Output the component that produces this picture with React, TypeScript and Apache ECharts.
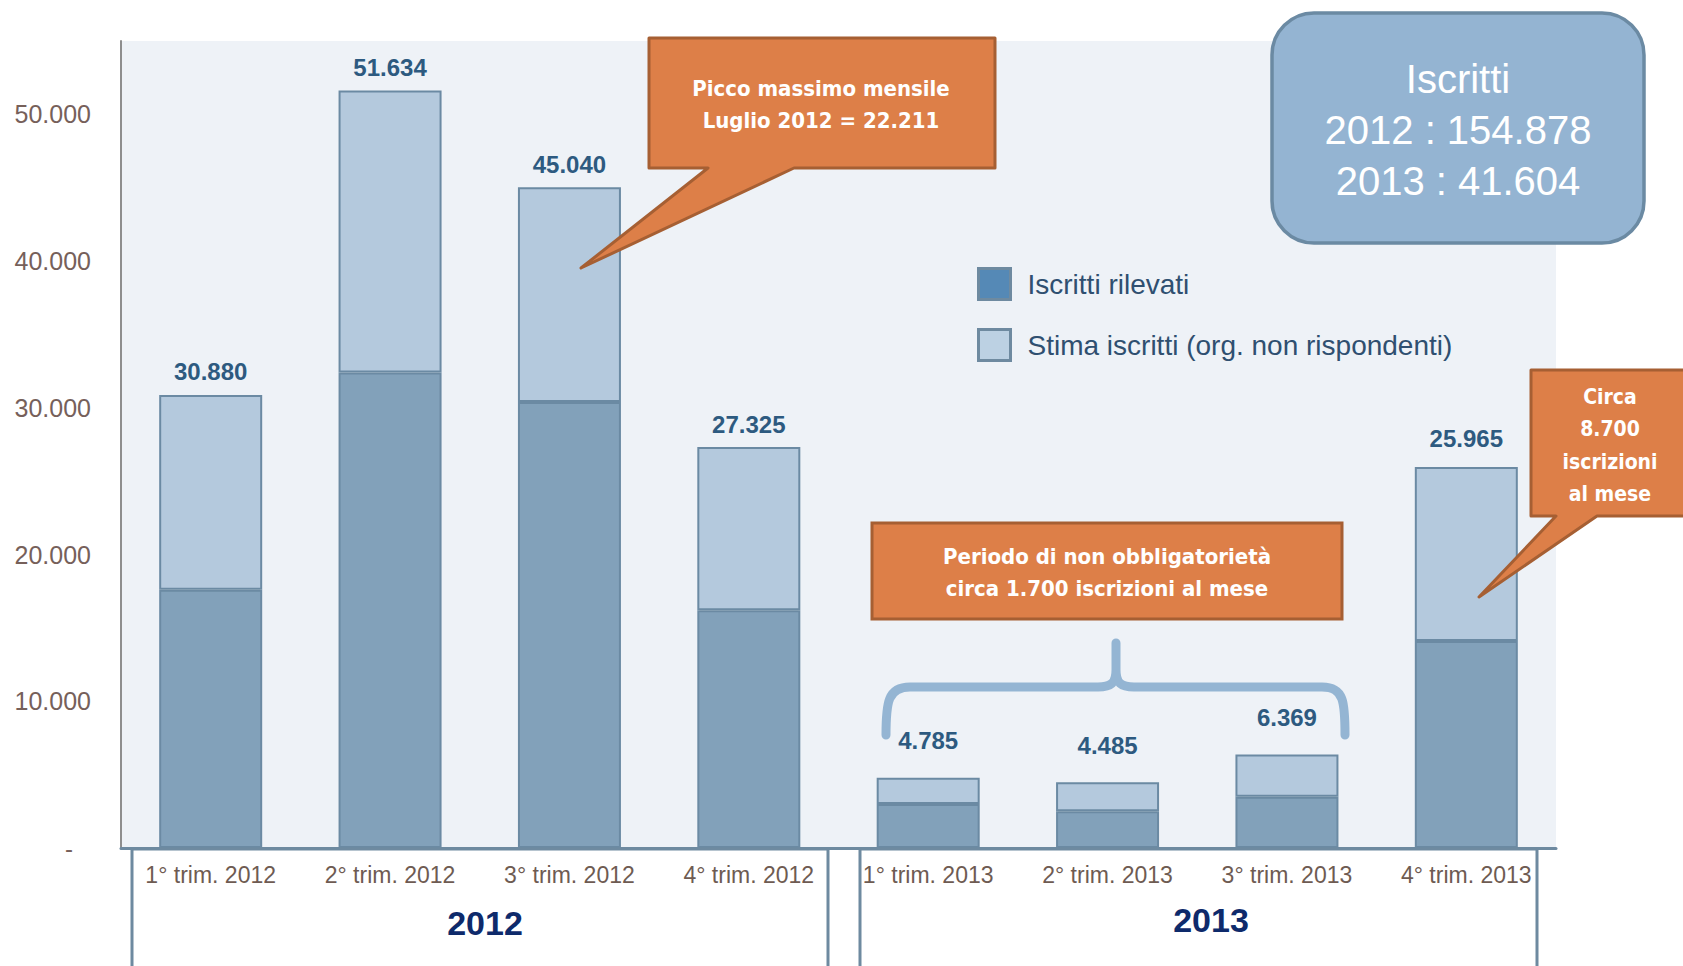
import React, { useEffect, useRef } from "react";
import * as echarts from "echarts";

const categories = [
  "1° trim. 2012",
  "2° trim. 2012",
  "3° trim. 2012",
  "4° trim. 2012",
  "1° trim. 2013",
  "2° trim. 2013",
  "3° trim. 2013",
  "4° trim. 2013",
];
const totals = [30880, 51634, 45040, 27325, 4785, 4485, 6369, 25965];
const rilevati = [17600, 32400, 30400, 16200, 3000, 2500, 3500, 14100];
const stima = [13280, 19234, 14640, 11125, 1785, 1985, 2869, 11865];
const seriesNames = ["Iscritti rilevati", "Stima iscritti (org. non rispondenti)"];
const yearLabels = ["2012", "2013"];
const calloutPeak = ["Picco massimo mensile", "Luglio 2012 = 22.211"];
const calloutPeriod = ["Periodo di non obbligatorietà", "circa 1.700 iscrizioni al mese"];
const calloutQ4 = ["Circa", "8.700", "iscrizioni", "al mese"];
const summaryLines = ["Iscritti", "2012 : 154.878", "2013 : 41.604"];

const fmt = (n: number) => String(n).replace(/\B(?=(\d{3})+(?!\d))/g, ".");

const FONT = "'Liberation Sans', Arial, sans-serif";
const NARROW = "'Liberation Sans Narrow', 'DejaVu Sans Condensed', 'Liberation Sans', sans-serif";
const ORANGE = "#DD7F48";
const ORANGE_EDGE = "#A65F33";
const BORDER = "#6B8AA3";

echarts.graphic.registerShape(
  "brace",
  echarts.graphic.extendPath(
    "M886,735 C886,702 888,687 910,687 L1098,687 C1111,687 1116,683 1116,670 L1116,643 M1116,670 C1116,683 1121,687 1134,687 L1322,687 C1344,687 1345,702 1345,735",
    {}
  )
);

function textLines(lines: string[], cx: number, y0: number, dy: number, style: any) {
  return lines.map((t, i) => ({
    type: "text",
    x: cx,
    y: y0 + i * dy,
    z: 20,
    style: { text: t, align: "center", verticalAlign: "middle", ...style },
  }));
}

export default function App() {
  const ref = useRef<HTMLDivElement>(null);
  useEffect(() => {
    document.body.style.margin = "0";
    document.body.style.overflow = "hidden";
    const chart = echarts.init(ref.current!, null, { renderer: "svg" });
    const calloutText = { fill: "#ffffff", fontFamily: NARROW, fontWeight: "bold", fontSize: 22 };
    const option: any = {
      animation: false,
      backgroundColor: "#ffffff",
      textStyle: { fontFamily: FONT },
      grid: {
        left: 121,
        right: 127,
        top: 41,
        bottom: 118,
        show: true,
        backgroundColor: "#EEF2F7",
        borderWidth: 0,
      },
      legend: {
        orient: "vertical",
        left: 972,
        top: 262,
        itemWidth: 32,
        itemHeight: 31,
        itemGap: 27,
        icon: "rect",
        selectedMode: false,
        textStyle: { color: "#2F4F70", fontSize: 28, fontFamily: FONT, padding: [0, 0, 0, 12] },
        data: [
          { name: seriesNames[0], itemStyle: { color: "#5589B6", borderColor: "#6E8AA0", borderWidth: 3 } },
          { name: seriesNames[1], itemStyle: { color: "#BCD1E3", borderColor: "#6E8AA0", borderWidth: 3 } },
        ],
      },
      xAxis: {
        type: "category",
        data: categories,
        axisLine: { show: true, lineStyle: { color: "#6E8AA0", width: 3 } },
        axisTick: { show: false },
        axisLabel: { color: "#6E5B52", fontSize: 23, margin: 15, fontFamily: FONT, interval: 0 },
      },
      yAxis: {
        type: "value",
        min: 0,
        max: 55000,
        interval: 10000,
        splitLine: { show: false },
        axisLine: { show: true, lineStyle: { color: "#8E8E8E", width: 2 } },
        axisTick: { show: false },
        axisLabel: {
          color: "#76605A",
          fontSize: 25,
          margin: 30,
          fontFamily: FONT,
          formatter: (v: number) => (v === 0 ? "{d|-}" : v > 50000 ? "" : fmt(v)),
          rich: { d: { padding: [0, 18, 0, 0], fontSize: 24, color: "#76605A" } },
        },
      },
      series: [
        {
          name: seriesNames[0],
          type: "bar",
          stack: "tot",
          barWidth: 103,
          data: rilevati,
          itemStyle: { color: "#82A1BA", borderColor: BORDER, borderWidth: 2 },
        },
        {
          name: seriesNames[1],
          type: "bar",
          stack: "tot",
          barWidth: 103,
          data: stima.map((v, i) => ({
            value: v,
            label: { distance: i >= 4 && i <= 6 ? 25 : i === 7 ? 17 : 11 },
          })),
          itemStyle: { color: "#B4C9DD", borderColor: BORDER, borderWidth: 2 },
          label: {
            show: true,
            position: "top",
            color: "#2D5A80",
            fontWeight: "bold",
            fontSize: 24,
            fontFamily: FONT,
            formatter: (p: any) => fmt(totals[p.dataIndex]),
          },
        },
      ],
      graphic: [
        {
          type: "rect",
          z: 5,
          shape: { x: 132, y: 849, width: 696, height: 140 },
          style: { fill: "none", stroke: "#6E8AA0", lineWidth: 3 },
        },
        {
          type: "rect",
          z: 5,
          shape: { x: 860, y: 849, width: 677, height: 140 },
          style: { fill: "none", stroke: "#6E8AA0", lineWidth: 3 },
        },
        {
          type: "text",
          x: 485,
          y: 923,
          style: { text: yearLabels[0], align: "center", verticalAlign: "middle", fill: "#0E2A6B", fontSize: 34, fontWeight: "bold", fontFamily: FONT },
        },
        {
          type: "text",
          x: 1211,
          y: 920,
          style: { text: yearLabels[1], align: "center", verticalAlign: "middle", fill: "#0E2A6B", fontSize: 34, fontWeight: "bold", fontFamily: FONT },
        },
        {
          type: "polygon",
          z: 10,
          shape: {
            points: [
              [649, 38], [995, 38], [995, 168], [794, 168], [581, 268], [708, 168], [649, 168],
            ],
          },
          style: { fill: ORANGE, stroke: ORANGE_EDGE, lineWidth: 3, lineJoin: "round" },
        },
        ...textLines(calloutPeak, 821, 88, 32, calloutText),
        {
          type: "rect",
          z: 10,
          shape: { x: 872, y: 523, width: 470, height: 96 },
          style: { fill: ORANGE, stroke: ORANGE_EDGE, lineWidth: 3 },
        },
        ...textLines(calloutPeriod, 1107, 556, 32, calloutText),
        {
          type: "brace",
          z: 9,
          style: { fill: "none", stroke: "#94B5D3", lineWidth: 9, lineCap: "round", lineJoin: "round" },
        },
        {
          type: "polygon",
          z: 10,
          shape: {
            points: [
              [1531, 370], [1700, 370], [1700, 516], [1597, 516], [1479, 597], [1556, 516], [1531, 516],
            ],
          },
          style: { fill: ORANGE, stroke: ORANGE_EDGE, lineWidth: 3, lineJoin: "round" },
        },
        ...textLines(calloutQ4, 1610, 397, 32.3, { ...calloutText, fontSize: 21 }),
        {
          type: "rect",
          z: 10,
          shape: { x: 1272, y: 13, width: 372, height: 230, r: 42 },
          style: { fill: "#94B4D2", stroke: BORDER, lineWidth: 3.5 },
        },
        ...textLines(summaryLines, 1458, 79, 51, { fill: "#ffffff", fontSize: 40, fontFamily: FONT }),
      ],
    };
    chart.setOption(option);
    return () => chart.dispose();
  }, []);
  return (
    <div
      ref={ref}
      style={{ position: "absolute", left: 0, top: 0, width: 1683, height: 966 }}
    />
  );
}
